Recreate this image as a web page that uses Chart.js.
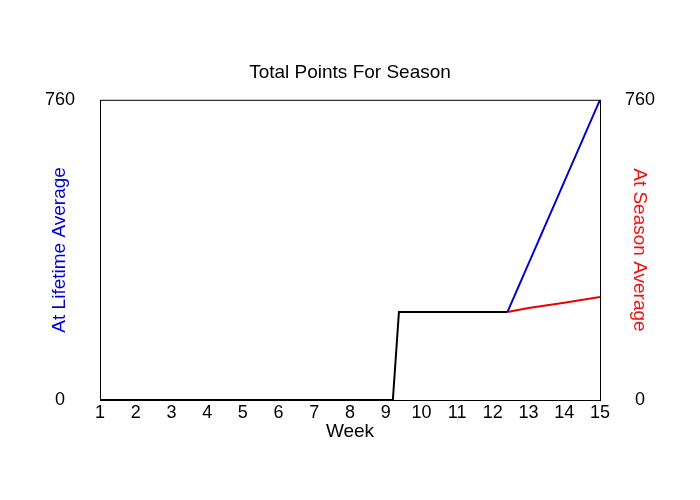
<!DOCTYPE html>
<html>
<head>
<meta charset="utf-8">
<script src="https://cdn.jsdelivr.net/npm/chart.js@4"></script>
<style>
  html, body { margin: 0; padding: 0; background: #fff; }
  #wrap { width: 700px; height: 500px; }
</style>
</head>
<body>
<div id="wrap"><canvas id="pointsChart"></canvas></div>
<script>
// points scored so far (actual)
const actualWeeks = [1, 9.2, 9.37, 12.41];
const actualPoints = [0, 0, 223, 223];

// projection at lifetime average
const lifetimeWeeks = [12.41, 15];
const lifetimePoints = [223, 760];

// projection at season average
const seasonWeeks = [12.41, 13, 14, 15];
const seasonPoints = [223, 233, 246, 261];

const weekTicks = [1, 2, 3, 4, 5, 6, 7, 8, 9, 10, 11, 12, 13, 14, 15];
const pointTicks = [0, 760];

const FONT = "'Liberation Sans', Arial, sans-serif";

function toXY(xs, ys) {
    return xs.map((x, i) => ({ x: x, y: ys[i] }));
}

// frame round the plot area plus the axis titles
const framePlugin = {
    id: 'frame',
    afterDraw(chart) {
        const { ctx, chartArea } = chart;
        ctx.save();
        ctx.strokeStyle = '#000';
        ctx.lineWidth = 1;
        ctx.strokeRect(chartArea.left + 0.5, chartArea.top + 0.5,
            chartArea.right - chartArea.left, chartArea.bottom - chartArea.top);

        const midY = (chartArea.top + chartArea.bottom) / 2;
        ctx.font = '19px ' + FONT;
        ctx.textAlign = 'center';
        ctx.textBaseline = 'middle';

        ctx.fillStyle = '#000';
        ctx.fillText('Week', (chartArea.left + chartArea.right) / 2, chartArea.bottom + 32);

        ctx.save();
        ctx.translate(chartArea.left - 40, midY);
        ctx.rotate(-Math.PI / 2);
        ctx.fillStyle = '#0000dd';
        ctx.fillText('At Lifetime Average', 0, 0);
        ctx.restore();

        ctx.save();
        ctx.translate(chartArea.right + 39, midY);
        ctx.rotate(Math.PI / 2);
        ctx.fillStyle = '#ee1111';
        ctx.fillText('At Season Average', 0, 0);
        ctx.restore();

        ctx.restore();
    }
};

const ctx = document.getElementById('pointsChart').getContext('2d');
new Chart(ctx, {
    type: 'line',
    data: {
        datasets: [{
            label: 'Actual',
            data: toXY(actualWeeks, actualPoints),
            borderColor: '#000',
            borderWidth: 2,
            pointRadius: 0,
            tension: 0,
            order: 0
        }, {
            label: 'Lifetime Average',
            data: toXY(lifetimeWeeks, lifetimePoints),
            borderColor: '#0000cc',
            borderWidth: 2,
            pointRadius: 0,
            tension: 0,
            order: 1
        }, {
            label: 'Season Average',
            data: toXY(seasonWeeks, seasonPoints),
            borderColor: '#ee0000',
            borderWidth: 2,
            pointRadius: 0,
            tension: 0,
            yAxisID: 'y2',
            order: 1
        }]
    },
    options: {
        responsive: true,
        maintainAspectRatio: false,
        animation: false,
        layout: { padding: 0 },
        scales: {
            x: {
                type: 'linear',
                min: 1,
                max: 15,
                afterFit: scale => { scale.height = 100; },
                afterBuildTicks: scale => { scale.ticks = weekTicks.map(v => ({ value: v })); },
                grid: { display: false, drawTicks: false },
                border: { display: false },
                ticks: {
                    color: '#000',
                    padding: 2,
                    autoSkip: false,
                    maxRotation: 0,
                    font: { family: FONT, size: 18 }
                }
            },
            y: {
                position: 'left',
                min: 0,
                max: 760,
                afterFit: scale => { scale.width = 100; },
                afterBuildTicks: scale => { scale.ticks = pointTicks.map(v => ({ value: v })); },
                grid: { display: false, drawTicks: false },
                border: { display: false },
                ticks: {
                    color: '#000',
                    padding: 25,
                    crossAlign: 'center',
                    font: { family: FONT, size: 18 }
                }
            },
            y2: {
                position: 'right',
                min: 0,
                max: 760,
                afterFit: scale => { scale.width = 100; },
                afterBuildTicks: scale => { scale.ticks = pointTicks.map(v => ({ value: v })); },
                grid: { display: false, drawTicks: false },
                border: { display: false },
                ticks: {
                    color: '#000',
                    padding: 25,
                    crossAlign: 'center',
                    font: { family: FONT, size: 18 }
                }
            }
        },
        plugins: {
            legend: { display: false },
            tooltip: { enabled: false },
            title: {
                display: true,
                text: 'Total Points For Season',
                color: '#000',
                font: { family: FONT, size: 19, weight: 'normal' },
                padding: { top: 61, bottom: 16 }
            }
        }
    },
    plugins: [framePlugin]
});
</script>
</body>
</html>
